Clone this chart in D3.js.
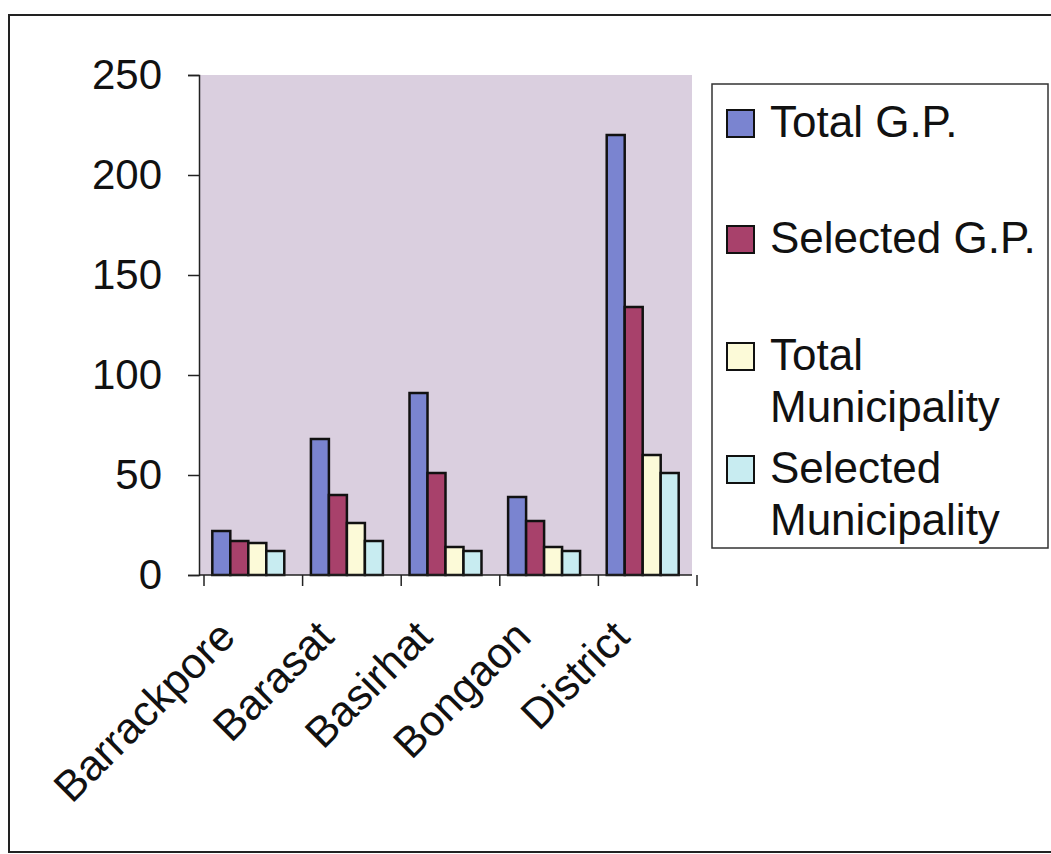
<!DOCTYPE html>
<html>
<head>
<meta charset="utf-8">
<script src="https://cdn.jsdelivr.net/npm/d3@7"></script>
<style>
  html, body { margin: 0; padding: 0; background: #ffffff; }
  svg { display: block; }
  text { font-family: Arial, "Liberation Sans", sans-serif; fill: #111; }
</style>
</head>
<body>
<svg id="chart" width="1051" height="854"></svg>
<script>
// ---- data ----
const categories = ["Barrackpore", "Barasat", "Basirhat", "Bongaon", "District"];
const seriesNames = ["Total G.P.", "Selected G.P.", "Total Municipality", "Selected Municipality"];
const totalGP = [22, 68, 91, 39, 220];
const selectedGP = [17, 40, 51, 27, 134];
const totalMunicipality = [16, 26, 14, 14, 60];
const selectedMunicipality = [12, 17, 12, 12, 51];
const yTicks = [0, 50, 100, 150, 200, 250];
const legendLines = [["Total G.P."], ["Selected G.P."], ["Total", "Municipality"], ["Selected", "Municipality"]];

const seriesValues = [totalGP, selectedGP, totalMunicipality, selectedMunicipality];
const colors = ["#7a84d0", "#a8416b", "#fcfad8", "#c8ecf1"];

const svg = d3.select("#chart");

// outer frame
svg.append("rect")
  .attr("x", 9).attr("y", 15).attr("width", 1060).attr("height", 837)
  .attr("fill", "none").attr("stroke", "#222").attr("stroke-width", 2);

const plot = { left: 199, right: 692, top: 75, bottom: 575 };

const y = d3.scaleLinear().domain([0, 250]).range([plot.bottom, plot.top]);
const x0 = d3.scaleBand().domain(categories).range([plot.left, plot.right])
  .paddingInner(0.27).paddingOuter(0.135);
const x1 = d3.scaleBand().domain(seriesNames).range([0, x0.bandwidth()]);

// plot background
svg.append("rect")
  .attr("x", plot.left).attr("y", plot.top)
  .attr("width", plot.right - plot.left).attr("height", plot.bottom - plot.top)
  .attr("fill", "#dacfdf");

// bars
const groups = svg.selectAll("g.grp").data(categories).enter().append("g")
  .attr("class", "grp")
  .attr("transform", c => `translate(${x0(c)},0)`);

groups.each(function(c, ci) {
  d3.select(this).selectAll("rect").data(seriesNames).enter().append("rect")
    .attr("x", s => x1(s))
    .attr("y", (s, si) => y(seriesValues[si][ci]))
    .attr("width", x1.bandwidth())
    .attr("height", (s, si) => y(0) - y(seriesValues[si][ci]))
    .attr("fill", (s, si) => colors[si])
    .attr("stroke", "#111").attr("stroke-width", 2.5);
});

// y axis
const yAxis = d3.axisLeft(y).tickValues(yTicks).tickSize(11).tickPadding(26);
const yg = svg.append("g").attr("transform", `translate(${plot.left},0)`).call(yAxis);
yg.select(".domain").attr("stroke", "#222").attr("stroke-width", 1.5);
yg.selectAll(".tick line").attr("stroke", "#222").attr("stroke-width", 1.5);
yg.selectAll(".tick text").attr("font-size", 42).attr("fill", "#111")
  .attr("font-family", "Arial, 'Liberation Sans', sans-serif");

// x axis line
svg.append("line")
  .attr("x1", plot.left).attr("x2", plot.right)
  .attr("y1", y(0)).attr("y2", y(0))
  .attr("stroke", "#222").attr("stroke-width", 1.5);

// x ticks at category boundaries
const step = x0.step();
const boundaries = categories.map(c => x0(c) - (step - x0.bandwidth()) / 2)
  .concat([x0(categories[categories.length - 1]) + x0.bandwidth() + (step - x0.bandwidth()) / 2]);
svg.selectAll("line.xtick").data(boundaries).enter().append("line")
  .attr("class", "xtick")
  .attr("x1", d => d + 5).attr("x2", d => d + 5)
  .attr("y1", y(0)).attr("y2", y(0) + 11)
  .attr("stroke", "#222").attr("stroke-width", 1.5);

// x labels
svg.selectAll("text.xlab").data(categories).enter().append("text")
  .attr("class", "xlab")
  .attr("text-anchor", "end")
  .attr("font-size", 43)
  .attr("transform", c => `translate(${x0(c) + x0.bandwidth() / 2 - 11},${y(0) + 64}) rotate(-45)`)
  .text(c => c);

// legend
const legend = { x: 712, y: 84, w: 336, h: 464 };
svg.append("rect")
  .attr("x", legend.x).attr("y", legend.y).attr("width", legend.w).attr("height", legend.h)
  .attr("fill", "#ffffff").attr("stroke", "#333").attr("stroke-width", 1.5);

const legendBaselines = [137, 253, 370, 483];
const li = svg.selectAll("g.leg").data(legendLines).enter().append("g").attr("class", "leg");
li.append("rect")
  .attr("x", 727).attr("y", (d, i) => legendBaselines[i] - 27)
  .attr("width", 27).attr("height", 27)
  .attr("fill", (d, i) => colors[i]).attr("stroke", "#111").attr("stroke-width", 2);
li.each(function(lines, i) {
  d3.select(this).selectAll("text").data(lines).enter().append("text")
    .attr("x", 770)
    .attr("y", (t, j) => legendBaselines[i] + j * 52)
    .attr("font-size", 44)
    .text(t => t);
});
</script>
</body>
</html>
